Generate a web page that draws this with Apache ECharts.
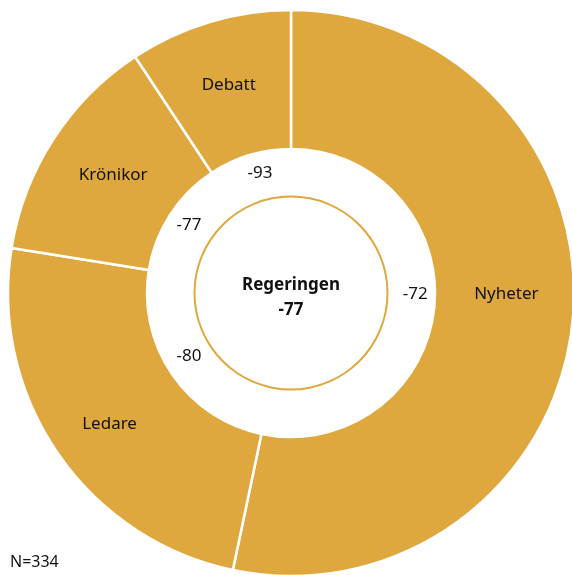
<!DOCTYPE html>
<html><head><meta charset="utf-8">
<script src="https://cdn.jsdelivr.net/npm/echarts@6/dist/echarts.min.js"></script>
<style>html,body{margin:0;padding:0;background:#fff}#c{width:572px;height:575px}</style>
</head><body><div id="c"></div>
<script>
const categories = ["Nyheter", "Ledare", "Krönikor", "Debatt"];
const counts = [178, 81, 44, 31];
const scores = [-72, -80, -77, -93];
const totalLabel = "Regeringen";
const totalScore = -77;
const nLabel = "N=334";

const COLOR = "#DFA83F";
const FONT = "Noto Sans";
const fmt = v => (v < 0 ? "-" + Math.abs(v) : String(v));
const center = [291, 293];
// small label nudges so labels sit like the reference
const outerNudge = [[0, -21], [-3, 9], [4, 0], [0, 0]];
const innerNudge = [[0, -12], [1, -8], [3, 0], [5, 0]];

const chart = echarts.init(document.getElementById('c'), null, {renderer: 'canvas'});
chart.setOption({
  animation: false,
  series: [
    {
      type: 'pie', center: center, radius: [144, 283], startAngle: 90, clockwise: true,
      silent: true,
      itemStyle: {color: COLOR, borderColor: '#fff', borderWidth: 2.5},
      label: {show: true, position: 'inside', color: '#111', fontFamily: FONT, fontSize: 17},
      labelLine: {show: false},
      data: categories.map((c, i) => ({name: c, value: counts[i], label: {offset: outerNudge[i]}}))
    },
    {
      type: 'pie', center: center, radius: [100, 144], startAngle: 90, clockwise: true,
      silent: true,
      itemStyle: {color: 'rgba(0,0,0,0)'},
      label: {show: true, position: 'inside', color: '#111', fontFamily: FONT, fontSize: 17,
        formatter: p => fmt(scores[p.dataIndex])},
      labelLine: {show: false},
      data: categories.map((c, i) => ({name: c, value: counts[i], label: {offset: innerNudge[i]}}))
    },
    {
      type: 'pie', center: center, radius: [95.5, 97.5], silent: true,
      itemStyle: {color: COLOR},
      label: {show: false},
      labelLine: {show: false},
      data: [{name: totalLabel, value: 1}]
    }
  ],
  graphic: [{
    type: 'text', x: 291, y: 298,
    style: {text: totalLabel + "\n" + fmt(totalScore), fontFamily: FONT, fontSize: 17,
      fontWeight: 'bold', fill: '#111', lineHeight: 25, align: 'center', verticalAlign: 'middle'}
  }, {
    type: 'text', left: 10, top: 554,
    style: {text: nLabel, fontFamily: FONT, fontSize: 16, fill: '#111'}
  }]
});
</script></body></html>
